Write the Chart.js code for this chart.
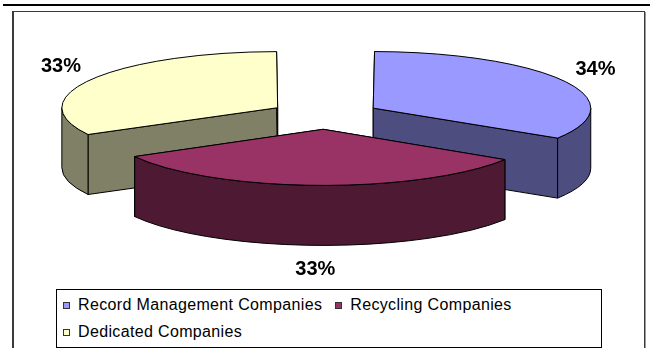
<!DOCTYPE html>
<html>
<head>
<meta charset="utf-8">
<script src="https://cdn.jsdelivr.net/npm/chart.js@4.4.1/dist/chart.umd.min.js"></script>
<style>
  html, body { margin: 0; padding: 0; background: #fff; width: 650px; height: 348px; overflow: hidden; }
  #rule { position: absolute; left: 3px; top: 4px; width: 647px; height: 2px; background: #000; }
  #frame { position: absolute; left: 12px; top: 11px; width: 630px; height: 400px;
           border: 1px solid #3a3a3a; border-left-width: 2px; box-shadow: 1px 1px 0 #9a9a9a; }
  #pie { position: absolute; left: 0; top: 0; }
  #legend { position: absolute; left: 56px; top: 289px; width: 538px; height: 56px;
            border: 1px solid #000; background: #fff; padding: 1px 0 0 6px;
            display: flex; flex-wrap: wrap; align-content: flex-start;
            font-family: "Liberation Sans", Arial, sans-serif; font-size: 16px; letter-spacing: 0.35px; color: #000; }
  .item { display: flex; align-items: center; height: 27px; margin-right: 13px; white-space: nowrap; }
  .swatch { width: 5px; height: 5px; border: 1px solid #333; margin-right: 8px; margin-top: 1px; }
</style>
</head>
<body>
<div id="rule"></div>
<div id="frame"></div>
<canvas id="pie" width="650" height="348"></canvas>
<div id="legend"></div>
<script>
// Market share by company type
const categories = ['Record Management Companies', 'Recycling Companies', 'Dedicated Companies'];
const shares = [34, 33, 33];

// top faces and their darker side walls
const faceColors = ['#9999FF', '#993366', '#FFFFCC'];
const wallColors = ['#4D4D80', '#4D1933', '#808066'];

const TILT = 0.26;     // vertical squash of the disc
const DEPTH = 60;      // height of the extruded walls, px
const EXPLODE = 220;   // arc offset option (the arc element moves by offset / 4)
const RADIUS = 209;

// geometry of each slice as the arc element draws it, projected onto the tilted disc
function sliceGeometry(chart) {
  const meta = chart.getDatasetMeta(0);
  return meta.data.map((el, i) => {
    const p = el.getProps(['x', 'y', 'startAngle', 'endAngle', 'outerRadius'], true);
    const off = (el.options.offset || 0) / 4;
    const circ = p.endAngle - p.startAngle;
    const mid = (p.startAngle + p.endAngle) / 2;
    const radOff = off * (1 - Math.sin(Math.min(Math.PI, circ)));
    const r = p.outerRadius + radOff;
    const beta = Math.max(0.001, circ * r - radOff / Math.PI) / r;
    const trim = (circ - beta) / 2;
    return {
      i,
      cx: p.x + Math.cos(mid) * off,
      cy: p.y + Math.sin(mid) * off * TILT,
      rx: r,
      ry: r * TILT,
      s: p.startAngle + trim,
      e: p.endAngle - trim,
      mid,
      pivotY: p.y
    };
  });
}

function pointAt(g, t) {
  return [g.cx + g.rx * Math.cos(t), g.cy + g.ry * Math.sin(t)];
}

function drawWalls(ctx, g) {
  ctx.fillStyle = wallColors[g.i];
  ctx.strokeStyle = '#000';
  ctx.lineWidth = 1;
  ctx.lineJoin = 'round';
  for (const t of [g.s, g.e]) {
    const [px, py] = pointAt(g, t);
    ctx.beginPath();
    ctx.moveTo(g.cx, g.cy);
    ctx.lineTo(px, py);
    ctx.lineTo(px, py + DEPTH);
    ctx.lineTo(g.cx, g.cy + DEPTH);
    ctx.closePath();
    ctx.fill();
    ctx.stroke();
  }
  // curved rim, only the part that faces the viewer
  for (let k = -1; k <= 1; k++) {
    const lo = Math.max(g.s, k * 2 * Math.PI);
    const hi = Math.min(g.e, k * 2 * Math.PI + Math.PI);
    if (hi > lo) {
      ctx.beginPath();
      ctx.ellipse(g.cx, g.cy, g.rx, g.ry, 0, lo, hi, false);
      ctx.ellipse(g.cx, g.cy + DEPTH, g.rx, g.ry, 0, hi, lo, true);
      ctx.closePath();
      ctx.fill();
      ctx.stroke();
    }
  }
}

const pie3d = {
  id: 'pie3d',
  beforeDatasetsDraw(chart) {
    const ctx = chart.ctx;
    const geo = sliceGeometry(chart).sort((a, b) => a.cy - b.cy);
    ctx.save();
    geo.forEach(g => drawWalls(ctx, g));
    ctx.restore();
    // tilt the disc for the library's own slice drawing
    const pivotY = geo.length ? geo[0].pivotY : 0;
    ctx.save();
    ctx.translate(0, pivotY);
    ctx.scale(1, TILT);
    ctx.translate(0, -pivotY);
  },
  afterDatasetsDraw(chart) {
    const ctx = chart.ctx;
    ctx.restore();
    const geo = sliceGeometry(chart);
    ctx.save();
    ctx.strokeStyle = '#000';
    ctx.lineWidth = 1;
    ctx.lineJoin = 'round';
    geo.forEach(g => {
      ctx.beginPath();
      ctx.moveTo(g.cx, g.cy);
      ctx.ellipse(g.cx, g.cy, g.rx, g.ry, 0, g.s, g.e, false);
      ctx.closePath();
      ctx.stroke();
    });
    // percentage labels outside each slice
    const total = shares.reduce((a, b) => a + b, 0);
    ctx.fillStyle = '#000';
    ctx.font = 'bold 20px "Liberation Sans", Arial, sans-serif';
    ctx.textAlign = 'center';
    ctx.textBaseline = 'middle';
    geo.forEach(g => {
      const c = Math.cos(g.mid), s = Math.sin(g.mid);
      const x = g.cx + c * (g.rx + 36);
      const y = g.cy + s * (g.ry + 24) + (s > 0 ? DEPTH : 0);
      ctx.fillText(Math.round(shares[g.i] / total * 100) + '%', x, y);
    });
    ctx.restore();
  }
};

new Chart(document.getElementById('pie'), {
  type: 'pie',
  data: {
    labels: categories,
    datasets: [{
      data: shares,
      backgroundColor: faceColors,
      borderWidth: 0,
      offset: EXPLODE
    }]
  },
  options: {
    responsive: false,
    animation: false,
    events: [],
    radius: RADIUS,
    layout: { padding: { left: 0, right: 0, top: 0, bottom: 118 } },
    plugins: { legend: { display: false }, tooltip: { enabled: false } }
  },
  plugins: [pie3d]
});

// legend
const legend = document.getElementById('legend');
categories.forEach((name, i) => {
  const item = document.createElement('div');
  item.className = 'item';
  const sw = document.createElement('span');
  sw.className = 'swatch';
  sw.style.background = faceColors[i];
  const label = document.createElement('span');
  label.textContent = name;
  item.appendChild(sw);
  item.appendChild(label);
  legend.appendChild(item);
});
</script>
</body>
</html>
